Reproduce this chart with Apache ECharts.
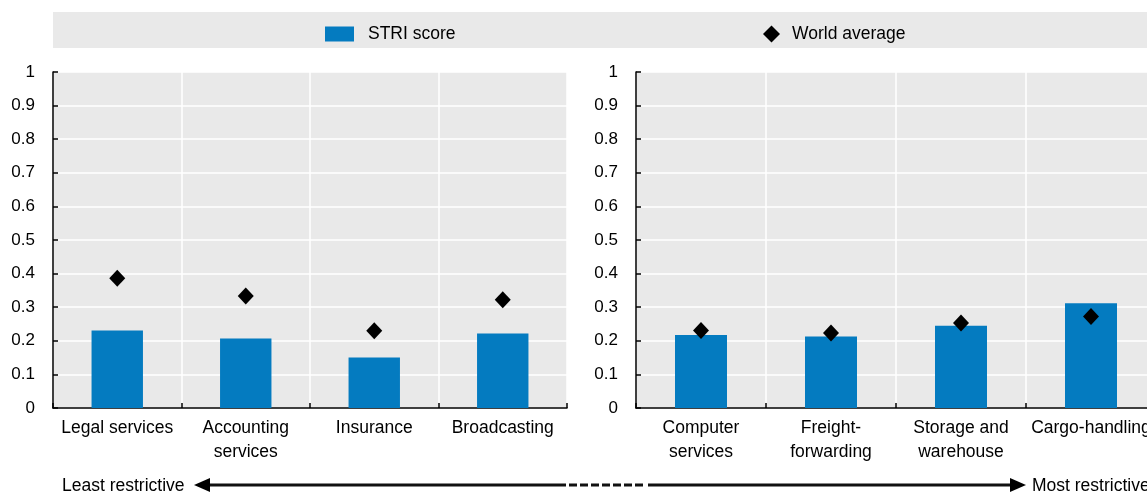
<!DOCTYPE html>
<html>
<head>
<meta charset="utf-8">
<script src="https://cdn.jsdelivr.net/npm/echarts@6/dist/echarts.min.js"></script>
<style>
  html, body { margin: 0; padding: 0; background: #fff; }
  #chart { width: 1147px; height: 494px; }
</style>
</head>
<body>
<div id="chart"></div>
<script>
// Sector groups shown in the two panels
const leftCategories = ['Legal services', 'Accounting\nservices', 'Insurance', 'Broadcasting'];
const rightCategories = ['Computer\nservices', 'Freight-\nforwarding', 'Storage and\nwarehouse', 'Cargo-handling'];

// STRI score per sector
const leftScores = [0.231, 0.207, 0.150, 0.222];
const rightScores = [0.217, 0.213, 0.245, 0.312];

// World average per sector
const leftAverages = [0.386, 0.333, 0.230, 0.322];
const rightAverages = [0.231, 0.223, 0.253, 0.272];

// Value-axis ticks
const yMin = 0, yMax = 1, yStep = 0.1;

const FONT = '"Liberation Sans", Arial, sans-serif';
const BLUE = '#047bc0';
const PANEL_BG = '#e9e9e9';

const chart = echarts.init(document.getElementById('chart'), null, { renderer: 'canvas' });

function grid(left, width) {
  return {
    left: left, top: 72, width: width, height: 336,
    show: true, backgroundColor: PANEL_BG, borderWidth: 0,
    outerBoundsMode: 'none', containLabel: false
  };
}

function xAxis(idx, cats) {
  return {
    type: 'category', gridIndex: idx, data: cats, boundaryGap: true,
    axisLine: { show: true, lineStyle: { color: '#000', width: 1.5 } },
    axisTick: { show: true, inside: true, length: 5, interval: 0, lineStyle: { color: '#000', width: 1.5 } },
    axisLabel: { interval: 0, margin: 8, color: '#000', fontSize: 17.5, lineHeight: 24, fontFamily: FONT },
    splitLine: { show: true, interval: 0, lineStyle: { color: '#fff', width: 1.5 } }
  };
}

function yAxis(idx) {
  return {
    type: 'value', gridIndex: idx, min: yMin, max: yMax, interval: yStep,
    axisLine: { show: true, lineStyle: { color: '#000', width: 1.5 } },
    axisTick: { show: true, inside: true, length: 5, lineStyle: { color: '#000', width: 1.5 } },
    axisLabel: {
      margin: 18, color: '#000', fontSize: 17, fontFamily: FONT,
      formatter: v => String(Math.round(v * 10) / 10)
    },
    splitLine: { show: true, lineStyle: { color: '#fff', width: 1.5 } }
  };
}

function bars(idx, values) {
  return {
    name: 'STRI score', type: 'bar', xAxisIndex: idx, yAxisIndex: idx,
    data: values, barWidth: '40%', itemStyle: { color: BLUE }, z: 2
  };
}

function diamonds(idx, values) {
  return {
    name: 'World average', type: 'scatter', xAxisIndex: idx, yAxisIndex: idx,
    data: values, symbol: 'diamond', symbolSize: [16, 17],
    itemStyle: { color: '#000', opacity: 1 }, z: 3
  };
}

const arrowY = 485;

chart.setOption({
  animation: false,
  textStyle: { fontFamily: FONT },
  legend: [
    {
      left: 325, top: 25, padding: 0, data: ['STRI score'],
      itemWidth: 29, itemHeight: 15, icon: 'rect',
      itemStyle: { color: BLUE },
      textStyle: { color: '#000', fontSize: 17.5, fontFamily: FONT, padding: [0, 0, 0, 9] }
    },
    {
      left: 763, top: 25, padding: 0, data: ['World average'],
      itemWidth: 17, itemHeight: 17, icon: 'diamond',
      itemStyle: { color: '#000', opacity: 1 },
      textStyle: { color: '#000', fontSize: 17.5, fontFamily: FONT, padding: [0, 0, 0, 7] }
    }
  ],
  grid: [grid(53, 514), grid(636, 520)],
  xAxis: [xAxis(0, leftCategories), xAxis(1, rightCategories)],
  yAxis: [yAxis(0), yAxis(1)],
  series: [
    bars(0, leftScores), diamonds(0, leftAverages),
    bars(1, rightScores), diamonds(1, rightAverages)
  ],
  graphic: [
    // legend band
    { type: 'rect', z: -10, shape: { x: 53, y: 12, width: 1100, height: 36 }, style: { fill: PANEL_BG } },
    // restrictiveness scale
    { type: 'text', left: 62, top: arrowY - 8, style: { text: 'Least restrictive', fill: '#000', font: '17.5px ' + FONT } },
    { type: 'text', left: 1032, top: arrowY - 8, style: { text: 'Most restrictive', fill: '#000', font: '17.5px ' + FONT } },
    {
      type: 'line', shape: { x1: 204, y1: arrowY, x2: 566, y2: arrowY },
      style: { lineWidth: 3, stroke: '#111' }
    },
    {
      type: 'line', shape: { x1: 569, y1: arrowY, x2: 645, y2: arrowY },
      style: { lineWidth: 3, stroke: '#111', lineDash: [8, 3] }
    },
    {
      type: 'line', shape: { x1: 648, y1: arrowY, x2: 1014, y2: arrowY },
      style: { lineWidth: 3, stroke: '#111' }
    },
    {
      type: 'polygon', shape: { points: [[194, arrowY], [210, arrowY - 7], [210, arrowY + 7]] },
      style: { fill: '#000' }
    },
    {
      type: 'polygon', shape: { points: [[1026, arrowY], [1010, arrowY - 7], [1010, arrowY + 7]] },
      style: { fill: '#000' }
    }
  ]
});
</script>
</body>
</html>
